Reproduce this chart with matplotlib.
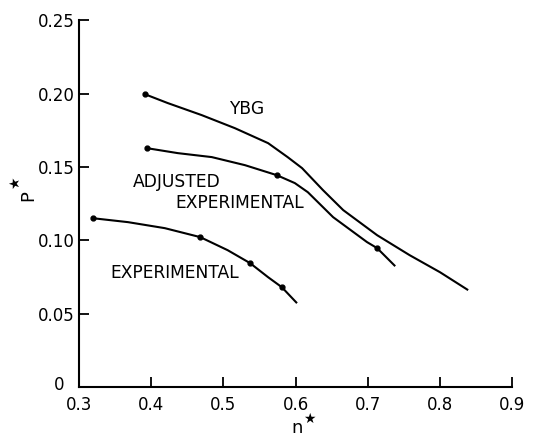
import matplotlib
matplotlib.use("Agg")
import matplotlib.pyplot as plt
from matplotlib.transforms import ScaledTranslation

# curves (n*, P*)
ybg_n = [0.391, 0.423, 0.470, 0.516, 0.562, 0.589, 0.609, 0.638, 0.666, 0.713, 0.758, 0.800, 0.839]
ybg_p = [0.1996, 0.1935, 0.1853, 0.1764, 0.1662, 0.1567, 0.1492, 0.1342, 0.1206, 0.1035, 0.0899, 0.0783, 0.0661]
ybg_dots = [0]

adj_n = [0.394, 0.437, 0.484, 0.530, 0.574, 0.599, 0.617, 0.652, 0.699, 0.713, 0.738]
adj_p = [0.1628, 0.1594, 0.1567, 0.1512, 0.1444, 0.1390, 0.1328, 0.1158, 0.0988, 0.0947, 0.0824]
adj_dots = [0, 4, 9]

exp_n = [0.319, 0.368, 0.419, 0.468, 0.506, 0.537, 0.562, 0.581, 0.602]
exp_p = [0.1151, 0.1124, 0.1083, 0.1022, 0.0933, 0.0845, 0.0749, 0.0681, 0.0572]
exp_dots = [0, 3, 5, 7]

xticks = [0.3, 0.4, 0.5, 0.6, 0.7, 0.8, 0.9]
yticks = [0, 0.05, 0.10, 0.15, 0.20, 0.25]
ytick_labels = ["0", "0.05", "0.10", "0.15", "0.20", "0.25"]

W, H = 533, 437
fig = plt.figure(figsize=(W / 100, H / 100), dpi=100)
ax = fig.add_axes([0.148, 0.114, 0.813, 0.840])

for xs, ys, dots in [(ybg_n, ybg_p, ybg_dots), (adj_n, adj_p, adj_dots), (exp_n, exp_p, exp_dots)]:
    ax.plot(xs, ys, color="black", lw=1.5, solid_joinstyle="round", solid_capstyle="butt")
    ax.plot([xs[i] for i in dots], [ys[i] for i in dots], "o", color="black", ms=3.5)

ax.set_xlim(0.3, 0.9)
ax.set_ylim(0, 0.25)
ax.spines["top"].set_visible(False)
ax.spines["right"].set_visible(False)
for s in ["left", "bottom"]:
    ax.spines[s].set_linewidth(1.5)
ax.set_xticks(xticks)
ax.set_xticklabels(["%.1f" % v for v in xticks])
ax.set_yticks(yticks)
ax.set_yticklabels(ytick_labels)
ax.tick_params(axis="x", direction="in", length=7, width=1.3, labelsize=12, pad=6)
ax.tick_params(axis="y", direction="in", length=7, width=1.3, labelsize=12, pad=3)

# the "0" sits a bit further left and higher than the others
zero = ax.get_yticklabels()[0]
zero.set_transform(zero.get_transform() + ScaledTranslation(-10 / 100, 4 / 100, fig.dpi_scale_trans))

# axis labels: letter plus a star
fig.text(297 / W, 1 - 428 / H, r"$\mathregular{n}$", fontsize=13, ha="center", va="center")
fig.text(310 / W, 1 - 419 / H, r"$\bigstar$", fontsize=10, ha="center", va="center")
fig.text(30 / W, 1 - 197 / H, r"$\mathregular{P}$", fontsize=13, ha="center", va="center", rotation=90)
fig.text(16 / W, 1 - 183 / H, r"$\bigstar$", fontsize=10, ha="center", va="center", rotation=90)

ax.text(0.532, 0.1894, "YBG", fontsize=12.3, ha="center", va="center")
ax.text(0.375, 0.1396, "ADJUSTED", fontsize=12.3, ha="left", va="center")
ax.text(0.433, 0.1253, "EXPERIMENTAL", fontsize=12.3, ha="left", va="center")
ax.text(0.343, 0.0777, "EXPERIMENTAL", fontsize=12.3, ha="left", va="center")

fig.savefig("out.png", dpi=100)
